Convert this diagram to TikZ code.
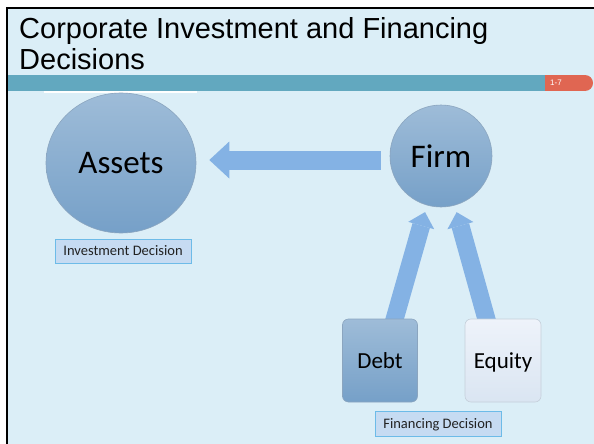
\documentclass[tikz,border=0pt]{standalone}
\usepackage{fontspec}
\setmainfont{Carlito}
\newfontfamily\titlefont{Liberation Sans}
\usepackage{tikz}
\usetikzlibrary{arrows.meta}
\usetikzlibrary{shapes.geometric}

\pgfdeclarelayer{background}
\pgfsetlayers{background,main}

\definecolor{slidebg}{HTML}{DBEEF7}
\definecolor{barteal}{HTML}{62A8BF}
\definecolor{tabred}{HTML}{E06652}
\definecolor{flowblue}{HTML}{84B2E4}
\definecolor{balltop}{HTML}{9EBCD8}
\definecolor{ballbottom}{HTML}{76A0C8}
\definecolor{ballrim}{HTML}{8BA5BF}
\definecolor{paletop}{HTML}{EEF3FA}
\definecolor{palebottom}{HTML}{DAE5F2}
\definecolor{palerim}{HTML}{C5CFDA}
\definecolor{tagfill}{HTML}{C6DBF2}
\definecolor{tagrim}{HTML}{6DBBE8}
\definecolor{tagtext}{HTML}{222222}

\begin{document}
\begin{tikzpicture}[x=1pt,y=-1pt]
  \tikzset{ball/.style = {draw=ballrim,line width=0.6pt,top color=balltop,bottom color=ballbottom,inner sep=0pt,font=\fontsize{33}{33}\selectfont}}
  \tikzset{block/.style = {rectangle,rounded corners=6pt,line width=0.6pt,minimum width=75pt,minimum height=83pt,text depth=0pt,font=\fontsize{23}{23}\selectfont}}
  \tikzset{tag/.style = {rectangle,draw=tagrim,fill=tagfill,line width=0.8pt,minimum height=24pt,text depth=0pt,text=tagtext,font=\fontsize{14.5}{14.5}\selectfont}}
  \tikzset{flow/.style = {draw=flowblue,line width=19pt,-{Triangle[length=20pt,width=37pt,line width=0pt]}}}
  \tikzset{lift/.style = {draw=flowblue,line width=18pt,-{Triangle[length=14pt,width=27pt,line width=0pt]}}}

  \useasboundingbox (0,0) rectangle (594,444);

  % slide frame, title bar and page tab
  \begin{pgfonlayer}{background}
    \fill[white] (0,0) rectangle (594,444);
    \fill[slidebg] (7,8) rectangle (594,444);
    \draw[black,line width=2pt] (7,444) -- (7,8) -- (594,8);
    \fill[barteal] (8,75) rectangle (545,91);
    \fill[tabred] (545,75) rectangle (585,91);
    \fill[tabred] (585,83) circle[radius=8];
    \fill[white] (44,91) rectangle (197,92.5);
  \end{pgfonlayer}

  \node[anchor=base west,inner sep=0pt,font=\titlefont\fontsize{29}{29}\selectfont] (title) at (19,39) {Corporate Investment and Financing};
  \node[anchor=base west,inner sep=0pt,font=\titlefont\fontsize{29}{29}\selectfont] (title2) at (19,70) {Decisions};
  \node[anchor=west,inner sep=0pt,text=white,font=\titlefont\fontsize{8}{8}\selectfont] (pageno) at (550,83) {1-7};

	\node[ball,ellipse,minimum width=150pt,minimum height=140pt] (assets) at (121,163) {Assets};
	\node[ball,circle,minimum size=102pt] (firm) at (441,156) {Firm};

	\node[block,draw=ballrim,top color=balltop,bottom color=ballbottom] (debt) at (380,360.5) {Debt};
	\node[block,draw=palerim,top color=paletop,bottom color=palebottom,minimum width=76pt] (equity) at (503,360.5) {Equity};

	\node[tag,minimum width=136pt] (invest) at (123,251) {Investment Decision};
	\node[tag,minimum width=126pt,minimum height=25pt] (finance) at (438,423.5) {Financing Decision};

  \begin{pgfonlayer}{background}
    \draw[flow,shorten <=9pt,shorten >=13pt] ([yshift=-4pt]firm.west) -- ([yshift=-4pt]firm.west -| assets.east);
    \foreach \from/\dx in {debt/13, equity/-15}
      \draw[lift,shorten >=7pt] ([xshift=\dx pt,yshift=-6pt]\from.north) -- (firm);
  \end{pgfonlayer}
\end{tikzpicture}
\end{document}
